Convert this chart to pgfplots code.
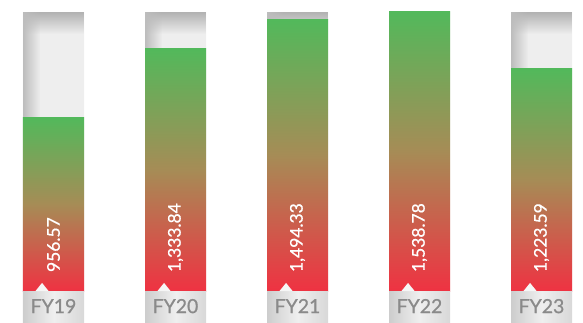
\documentclass[border=0pt]{standalone}
\usepackage{pgfplots}
\pgfplotsset{compat=1.18}
\usepackage{fontspec}
\setmainfont{Lato}
\newfontfamily\medfont{Lato}[FakeBold=0.7]
\usetikzlibrary{fadings}
\definecolor{trackc}{HTML}{EEEEEE}
\definecolor{topc}{HTML}{B2B2B2}
\definecolor{leftc}{HTML}{BDBDBD}
\definecolor{greenc}{HTML}{52B95B}
\definecolor{redc}{HTML}{EF3242}
\definecolor{midc}{HTML}{A68C56}
\definecolor{boxl}{HTML}{CDCDCD}
\definecolor{boxm}{HTML}{EFEFEF}
\definecolor{boxr}{HTML}{D8D8D8}
\definecolor{pointc}{HTML}{F6F6F6}
\definecolor{labc}{HTML}{8A8A8A}
\tikzfading[name=fadedown, top color=transparent!0, bottom color=transparent!100]
\tikzfading[name=faderight, left color=transparent!0, right color=transparent!100]
\pgfplotsset{
  valbar/.style={ybar, bar width=61bp, bar shift=0pt, draw=none, top color=greenc, bottom color=redc, middle color=midc},
  boxbar/.style={ybar, bar width=61bp, bar shift=0pt, draw=none, left color=boxl, right color=boxr, middle color=boxm},
}
\begin{document}
\begin{tikzpicture}
\begin{axis}[
  width=583bp, height=322bp, scale only axis,
  xmin=-0.4385, xmax=4.340, ymin=-170.4, ymax=1599.2,
  axis line style={draw=none}, major tick length=0pt,
  ytick=\empty,
  xtick={0,1,2,3,4},
  xticklabels={FY19,FY20,FY21,FY22,FY23},
  xticklabel style={anchor=base, yshift=9bp, inner sep=0pt, text=labc, font=\medfont\fontsize{19.5}{19.5}\selectfont},
  axis on top,
]
% tracks
\addplot[ybar, bar width=61bp, bar shift=0pt, draw=none, fill=trackc]
  coordinates {(0,1533)(1,1533)(2,1533)(3,1533)(4,1533)};
% top shading of tracks
\addplot[draw=none, fill=topc, path fading=fadedown] coordinates {(-0.25,1413)(0.25,1413)(0.25,1533)(-0.25,1533)} -- cycle;
\addplot[draw=none, fill=topc, path fading=fadedown] coordinates {(0.75,1413)(1.25,1413)(1.25,1533)(0.75,1533)} -- cycle;
\addplot[draw=none, fill=topc, path fading=fadedown] coordinates {(1.75,1413)(2.25,1413)(2.25,1533)(1.75,1533)} -- cycle;
\addplot[draw=none, fill=topc, path fading=fadedown] coordinates {(2.75,1413)(3.25,1413)(3.25,1533)(2.75,1533)} -- cycle;
\addplot[draw=none, fill=topc, path fading=fadedown] coordinates {(3.75,1413)(4.25,1413)(4.25,1533)(3.75,1533)} -- cycle;
% left shading of tracks
\addplot[draw=none, fill=leftc, path fading=faderight] coordinates {(-0.25,0)(-0.11,0)(-0.11,1533)(-0.25,1533)} -- cycle;
\addplot[draw=none, fill=leftc, path fading=faderight] coordinates {(0.75,0)(0.89,0)(0.89,1533)(0.75,1533)} -- cycle;
\addplot[draw=none, fill=leftc, path fading=faderight] coordinates {(1.75,0)(1.89,0)(1.89,1533)(1.75,1533)} -- cycle;
\addplot[draw=none, fill=leftc, path fading=faderight] coordinates {(2.75,0)(2.89,0)(2.89,1533)(2.75,1533)} -- cycle;
\addplot[draw=none, fill=leftc, path fading=faderight] coordinates {(3.75,0)(3.89,0)(3.89,1533)(3.75,1533)} -- cycle;
% value bars
\addplot[valbar] coordinates {(0,956.57)};
\addplot[valbar] coordinates {(1,1333.84)};
\addplot[valbar] coordinates {(2,1494.33)};
\addplot[valbar] coordinates {(3,1538.78)};
\addplot[valbar] coordinates {(4,1223.59)};
% label boxes
\addplot[boxbar] coordinates {(0,-175)};
\addplot[boxbar] coordinates {(1,-175)};
\addplot[boxbar] coordinates {(2,-175)};
\addplot[boxbar] coordinates {(3,-175)};
\addplot[boxbar] coordinates {(4,-175)};
% pointers
\addplot[draw=none, fill=pointc] coordinates {(-0.148,0)(-0.094,45)(-0.040,0)} -- cycle;
\addplot[draw=none, fill=pointc] coordinates {(0.852,0)(0.906,45)(0.960,0)} -- cycle;
\addplot[draw=none, fill=pointc] coordinates {(1.852,0)(1.906,45)(1.960,0)} -- cycle;
\addplot[draw=none, fill=pointc] coordinates {(2.852,0)(2.906,45)(2.960,0)} -- cycle;
\addplot[draw=none, fill=pointc] coordinates {(3.852,0)(3.906,45)(3.960,0)} -- cycle;
% values
\addplot[draw=none, mark=none, nodes near coords, point meta=explicit symbolic,
  every node near coord/.append style={rotate=90, anchor=west, inner sep=0pt, text=white, font=\medfont\fontsize{17.5}{17.5}\selectfont}]
  coordinates {(0,104)[956.57] (1,104)[{1,333.84}] (2,104)[{1,494.33}] (3,104)[{1,538.78}] (4,104)[{1,223.59}]};
\end{axis}
\end{tikzpicture}
\end{document}
